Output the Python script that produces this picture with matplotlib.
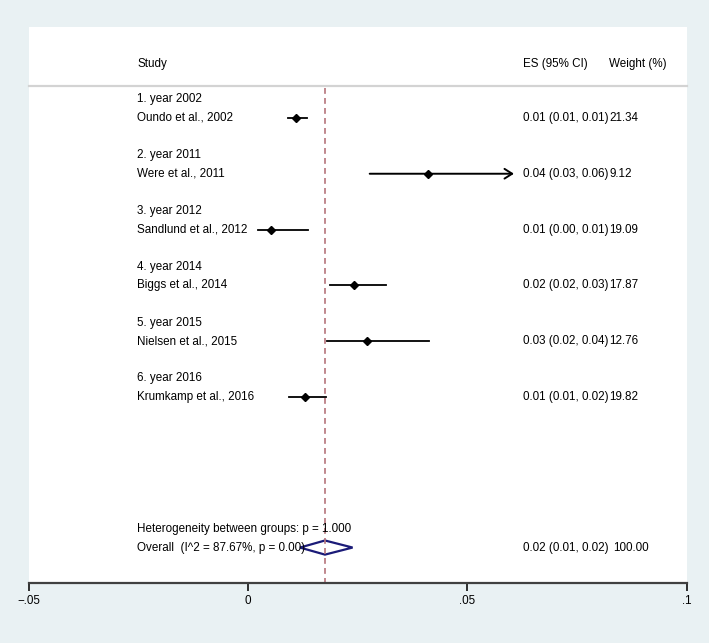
import numpy as np
import matplotlib.pyplot as plt
import matplotlib.transforms as mtransforms

# données
groupes = ["1. year 2002", "2. year 2011", "3. year 2012", "4. year 2014", "5. year 2015", "6. year 2016"]
etudes = ["Oundo et al., 2002", "Were et al., 2011", "Sandlund et al., 2012",
          "Biggs et al., 2014", "Nielsen et al., 2015", "Krumkamp et al., 2016"]
es = [0.0110, 0.0410, 0.0053, 0.0242, 0.0272, 0.0129]
ic_bas = [0.0091, 0.0277, 0.0022, 0.0186, 0.0179, 0.0093]
ic_haut = [0.0133, 0.0606, 0.0136, 0.0314, 0.0412, 0.0177]
poids = ["21.34", "9.12", "19.09", "17.87", "12.76", "19.82"]
tronque = [False, True, False, False, False, False]  # IC coupé -> flèche

es_global = 0.0175
ic_global = (0.0118, 0.0238)
poids_global = "100.00"
texte_het = "Heterogeneity between groups: p = 1.000"
texte_global = "Overall  (I^2 = 87.67%, p = 0.00)"

ticks = [-0.05, 0, 0.05, 0.1]
tick_labels = ["\u2212.05", "0", ".05", ".1"]

plt.rcParams['font.family'] = ['Liberation Sans', 'DejaVu Sans']
fs = 8.4
fond = '#e9f1f3'

fig = plt.figure(figsize=(7.09, 6.43), dpi=100, facecolor=fond)
ax = fig.add_axes([29/709, 1 - 582.7/643, 657.7/709, 555.7/643])
ax.set_facecolor('white')
ax.set_xlim(-0.05, 0.1)
ax.set_ylim(25.99, -3.89)

trans = mtransforms.blended_transform_factory(ax.transAxes, ax.transData)
x_lab = (137 - 29) / 657.7
x_es = (523 - 29) / 657.7
x_w = (609 - 29) / 657.7
x_wv = (609 - 29) / 657.7

# en-tête
ax.text(x_lab, -1.92, "Study", transform=trans, fontsize=fs, va='center')
ax.text(x_es, -1.92, "ES (95% CI)", transform=trans, fontsize=fs, va='center')
ax.text(x_w, -1.92, "Weight (%)", transform=trans, fontsize=fs, va='center')
ax.plot([0, 1], [-0.72, -0.72], transform=trans, color='#d3d3d3', lw=1.6, clip_on=False)

# ligne de l'effet global
ax.plot([es_global, es_global], [-0.6, 25.99], color='#b5737a', lw=1.2, ls=(0, (3.5, 2.5)))

for i in range(len(etudes)):
    yg = 3 * i
    ys = 3 * i + 1
    ax.text(x_lab, yg, groupes[i], transform=trans, fontsize=fs, va='center')
    ax.text(x_lab, ys, etudes[i], transform=trans, fontsize=fs, va='center')
    if tronque[i]:
        ax.annotate("", xy=(ic_haut[i], ys), xytext=(ic_bas[i], ys),
                    arrowprops=dict(arrowstyle='->,head_length=0.55,head_width=0.35', color='black', lw=1.4,
                                    shrinkA=0, shrinkB=0))
    else:
        ax.plot([ic_bas[i], ic_haut[i]], [ys, ys], color='black', lw=1.3)
    ax.plot(es[i], ys, marker='D', color='black', markersize=3.8)
    txt = "%.2f (%.2f, %.2f)" % (es[i], ic_bas[i], ic_haut[i])
    ax.text(x_es, ys, txt, transform=trans, fontsize=fs, va='center')
    ax.text(x_wv, ys, poids[i], transform=trans, fontsize=fs, va='center')

# résultat global
ax.text(x_lab, 23.1, texte_het, transform=trans, fontsize=fs, va='center')
ax.text(x_lab, 24.1, texte_global, transform=trans, fontsize=fs, va='center')
y0 = 24.1
h = 0.38
ax.fill([ic_global[0], es_global, ic_global[1], es_global, ic_global[0]],
        [y0, y0 - h, y0, y0 + h, y0], facecolor='none', edgecolor='#1b1b78', lw=1.6)
txt = "%.2f (%.2f, %.2f)" % (es_global, ic_global[0], ic_global[1])
ax.text(x_es, y0, txt, transform=trans, fontsize=fs, va='center')
ax.text(x_wv + 0.007, y0, poids_global, transform=trans, fontsize=fs, va='center')

# axes
for s in ['top', 'left', 'right']:
    ax.spines[s].set_visible(False)
ax.spines['bottom'].set_color('#404040')
ax.spines['bottom'].set_linewidth(1.6)
ax.set_yticks([])
ax.set_xticks(ticks)
ax.set_xticklabels(tick_labels, fontsize=fs)
ax.tick_params(axis='x', direction='out', length=6, width=1.3, color='#202020', pad=2.5)

plt.savefig('out.png', dpi=100, facecolor=fond)
